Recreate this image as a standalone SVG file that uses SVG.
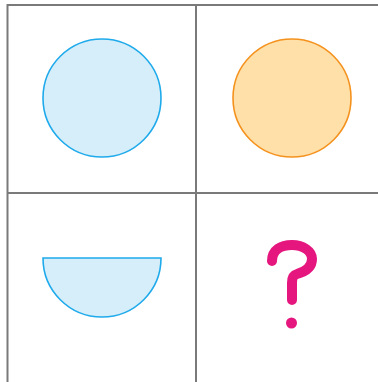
<svg xmlns="http://www.w3.org/2000/svg" width="378" height="382" viewBox="0 0 378 382">
  <style>
    .grid { stroke: #7a7a7a; stroke-width: 2; fill: none; }
    .blue { fill: #d6eefa; stroke: #1eaaeb; stroke-width: 1.6; }
    .orange { fill: #fee0a8; stroke: #f5921e; stroke-width: 1.6; }
    .mark { stroke: #e5177f; stroke-width: 10; stroke-linecap: round; stroke-linejoin: round; fill: none; }
  </style>
  <rect width="378" height="382" fill="#ffffff"/>
  <g id="grid">
    <line class="grid" x1="7" y1="5" x2="378" y2="5"/>
    <line class="grid" x1="7" y1="193" x2="378" y2="193"/>
    <line class="grid" x1="7.5" y1="4" x2="7.5" y2="382"/>
    <line class="grid" x1="196" y1="5" x2="196" y2="382"/>
  </g>
  <g id="blue-circle">
    <circle class="blue" cx="102" cy="98" r="59"/>
  </g>
  <g id="orange-circle">
    <circle class="orange" cx="292" cy="98" r="59"/>
  </g>
  <g id="half-circle">
    <path class="blue" d="M43,258 L161,258 A59,59 0 0 1 43,258 Z"/>
  </g>
  <g id="question-mark">
    <path class="mark" d="M272,261 C272,250 281,245 292,245 C303,245 312,251 312,259 C312,268 304,272 297,274 C293,275 292,278 292,283 L292,300"/>
    <circle cx="291.5" cy="323" r="5.5" fill="#e5177f"/>
  </g>
</svg>
